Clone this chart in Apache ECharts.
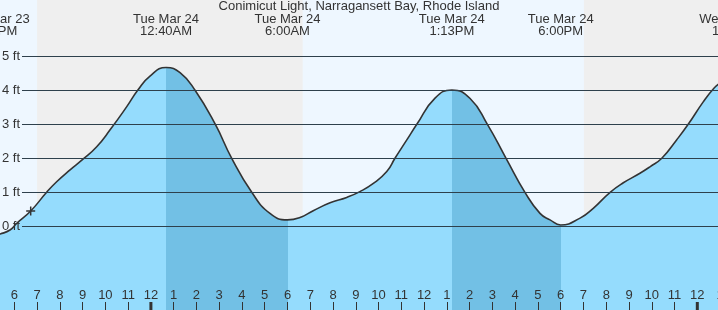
<!DOCTYPE html>
<html><head><meta charset="utf-8">
<script src="https://cdn.jsdelivr.net/npm/echarts@6/dist/echarts.min.js"></script>
<style>html,body{margin:0;padding:0;background:#fff}#c{width:718px;height:310px}</style>
</head><body><div id="c"></div>
<script>
// hours relative to midnight Tue Mar 24
const hours = [-7, -6.63, -6.19, -5.89, -5.28, -4.58, -4.14, -3.55, -2.97, -2.38, -1.80, -1.06, -0.58, -0.04, 0.67, 1.28, 1.94, 2.82, 3.55, 4.43, 5.23, 6.00, 6.55, 7.13, 7.87, 8.60, 9.18, 9.77, 10.36, 10.72, 11.24, 11.68, 12.48, 13.22, 14.02, 14.78, 15.60, 16.43, 17.09, 17.53, 18.00, 18.85, 19.43, 20.17, 20.75, 21.48, 21.92, 22.44, 23.09, 23.60, 24.26, 24.73, 25];
const feet  = [-0.31, -0.23, -0.11, 0.09, 0.45, 1.00, 1.31, 1.66, 1.98, 2.34, 2.83, 3.52, 4.00, 4.42, 4.67, 4.52, 4.00, 3.01, 2.00, 1.00, 0.38, 0.19, 0.26, 0.46, 0.69, 0.85, 1.02, 1.26, 1.61, 2.00, 2.54, 3.00, 3.77, 4.01, 3.76, 3.00, 2.00, 1.00, 0.38, 0.19, 0.04, 0.24, 0.53, 1.00, 1.28, 1.56, 1.75, 2.00, 2.54, 3.00, 3.66, 4.06, 4.21];
const eventHours = [-6.85, 0.667, 6.0, 13.217, 18.0, 25.63];
const eventLabels = ['Mon Mar 23\n5:09PM', 'Tue Mar 24\n12:40AM', 'Tue Mar 24\n6:00AM', 'Tue Mar 24\n1:13PM', 'Tue Mar 24\n6:00PM', 'Wed Mar 25\n1:38AM'];
const nights = [[-5.0, 6.667], [19.02, 25]];
const ebbs = [[0.667, 6.0], [13.217, 18.0]];
const gridFeet = [0, 1, 2, 3, 4, 5];
const midnights = [0, 24];
const nowMarker = [[-5.28, 0.45]];

const xMin = -7, xMax = 25, yMin = -2.462, yMax = 6.656;
const gridStartHour = -5.662;
const FONT = 'Liberation Sans, Arial, sans-serif';
const LIGHT = '#95dcfd', DARK = '#72c0e5';

const chart = echarts.init(document.getElementById('c'), null, {renderer: 'canvas'});
const pieces = [];
let prev = -Infinity;
ebbs.forEach(e => { pieces.push({gt: prev, lt: e[0], color: LIGHT}); pieces.push({gte: e[0], lte: e[1], color: DARK}); prev = e[1]; });
pieces.push({gt: prev, lt: Infinity, color: LIGHT});

const option = {
  animation: false,
  backgroundColor: '#fff',
  title: {text: 'Conimicut Light, Narragansett Bay, Rhode Island', left: 'center', top: 0, padding: 0,
    textStyle: {fontSize: 13, fontWeight: 'normal', color: '#333', fontFamily: FONT}},
  grid: {left: -8.47, right: -2.08, top: 0, bottom: 0, show: true, backgroundColor: '#eef7ff', borderWidth: 0,
    containLabel: false, outerBoundsMode: 'none'},
  xAxis: {type: 'value', min: xMin, max: xMax, interval: 1, z: 10, position: 'bottom',
    axisLine: {show: false, onZero: false}, splitLine: {show: false},
    axisTick: {show: true, inside: true, length: 8, lineStyle: {color: '#333', width: 1}},
    axisLabel: {inside: true, margin: 8, fontSize: 13, fontFamily: FONT, color: '#333', hideOverlap: false,
      formatter: v => { const h = ((v % 12) + 12) % 12; return String(h === 0 ? 12 : h); }}},
  yAxis: {type: 'value', min: yMin, max: yMax, show: false},
  visualMap: {type: 'piecewise', show: false, dimension: 0, seriesIndex: 2, pieces: pieces},
  series: [
    {type: 'line', z: 1, data: [], silent: true,
      markArea: {silent: true, itemStyle: {color: '#efefef'}, data: nights.map(n => [{xAxis: n[0]}, {xAxis: n[1]}])}},
    {type: 'line', z: 2, data: [], silent: true,
      markLine: {silent: true, symbol: 'none', animation: false, label: {show: false},
        lineStyle: {color: '#333', width: 1.2, type: 'solid'},
        data: gridFeet.map(f => [{coord: [gridStartHour, f]}, {coord: [xMax, f]}])}},
    {type: 'line', z: 3, data: hours.map((h, i) => [h, feet[i]]), smooth: 0.5, showSymbol: false,
      lineStyle: {color: '#333', width: 1.6}, areaStyle: {opacity: 1, origin: 'start'}},
    {type: 'line', z: 4, data: [], silent: true,
      markLine: {silent: true, symbol: 'none', animation: false,
        label: {show: true, position: 'start', distance: 2, fontSize: 13, fontFamily: FONT, color: '#333'},
        lineStyle: {color: 'rgba(30,120,180,0.2)', width: 1.2, type: 'solid'},
        data: gridFeet.map(f => [{coord: [gridStartHour, f], label: {formatter: f + ' ft'}}, {coord: [xMax, f]}])}},
    {type: 'custom', z: 5, data: nowMarker, renderItem: (params, api) => {
      const p = api.coord([api.value(0), api.value(1)]);
      return {type: 'group', children: [
        {type: 'line', shape: {x1: p[0] - 4.5, y1: p[1], x2: p[0] + 4.5, y2: p[1]}, style: {stroke: '#333', lineWidth: 1.5}},
        {type: 'line', shape: {x1: p[0], y1: p[1] - 4.5, x2: p[0], y2: p[1] + 4.5}, style: {stroke: '#333', lineWidth: 1.5}}]};
    }},
    {type: 'custom', z: 11, data: midnights.map(m => [m]), renderItem: (params, api) => {
      const p = api.coord([api.value(0), yMin]);
      return {type: 'rect', shape: {x: p[0] - 1.5, y: p[1] - 8, width: 3, height: 8}, style: {fill: '#333'}};
    }},
    {type: 'custom', z: 11, clip: false, data: eventHours.map(h => [h]), renderItem: (params, api) => {
      const p = api.coord([api.value(0), 0]);
      return {type: 'text', x: p[0], y: 13.5, style: {text: eventLabels[params.dataIndex], textAlign: 'center',
        textVerticalAlign: 'top', fontSize: 13, fontFamily: FONT, lineHeight: 12, fill: '#333'}};
    }}
  ]
};
chart.setOption(option);
</script></body></html>
